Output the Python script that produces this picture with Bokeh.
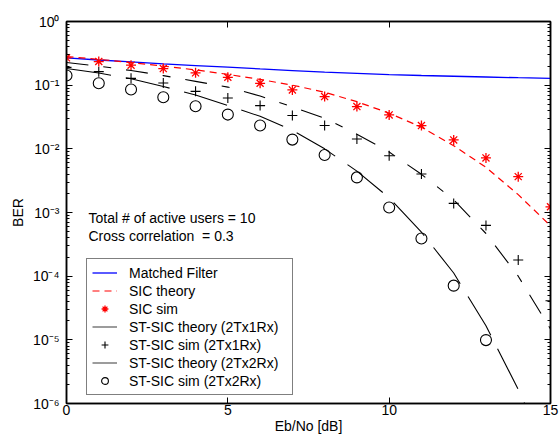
from bokeh.plotting import figure
from bokeh.models import (Range1d, FixedTicker, LinearAxis, LogAxis, CustomJSTickFormatter,
                          Label, Legend, LegendItem)
from bokeh.embed import file_html
from bokeh.resources import INLINE

# ---------------- data ----------------
ebno = [0, 1, 2, 3, 4, 5, 6, 7, 8, 9, 10, 11, 12, 13, 14, 15]
mf_ber = [0.2685, 0.2483, 0.2317, 0.2163, 0.2032, 0.1914, 0.1799, 0.1698,
          0.1603, 0.1531, 0.1469, 0.1419, 0.1380, 0.1343, 0.1309, 0.1282]
sic_theory = [0.2818, 0.2541, 0.2265, 0.1995, 0.1738, 0.1479, 0.1230, 0.1000,
              0.0776, 0.0550, 0.0363, 0.0219, 0.0112, 0.00513, 0.00191, 0.000617]
sic_sim = [0.269, 0.235, 0.206, 0.182, 0.156, 0.133, 0.107, 0.0842,
           0.0662, 0.0461, 0.0341, 0.0232, 0.0138, 0.0072, 0.00366, 0.00123]
st1_theory = [0.2265, 0.1995, 0.1698, 0.1413, 0.1148, 0.0933, 0.0676, 0.0457,
              0.0302, 0.0170, 0.00891, 0.00398, 0.00158, 4.68e-4, 1.0e-4, 1.48e-5]
st1_sim = [0.19, 0.163, 0.128, 0.108, 0.080, 0.063, 0.0478, 0.0333,
           0.0232, 0.0143, 0.0078, 0.00403, 0.00139, 6.27e-4, 1.79e-4, 4.1e-5]
st2_theory = [0.1824, 0.1549, 0.1259, 0.0955, 0.0700, 0.0479, 0.0324, 0.0195,
              0.0100, 0.00447, 0.0017, 4.9e-4, 1.12e-4, 1.66e-5, 1.66e-6, 1.26e-7]
st2_ebno = [0, 1, 2, 3, 4, 5, 6, 7, 8, 9, 10, 11, 12, 13]
st2_sim = [0.1415, 0.107, 0.0853, 0.0645, 0.0466, 0.0345, 0.0232, 0.01396,
           0.0080, 0.00356, 0.0012, 3.9e-4, 7.1e-5, 9.9e-6]

x_ticks = [0, 5, 10, 15]
y_ticks = [1e-6, 1e-5, 1e-4, 1e-3, 1e-2, 1e-1, 1e0]
y_minor = [m * t for t in y_ticks[:-1] for m in (2, 3, 4, 5, 6, 7, 8, 9)]

legend_labels = ["Matched Filter", "SIC theory", "SIC sim", "ST-SIC theory (2Tx1Rx)",
                 "ST-SIC sim (2Tx1Rx)", "ST-SIC theory (2Tx2Rx)", "ST-SIC sim (2Tx2Rx)"]
note_lines = ["Total # of active users = 10", "Cross correlation \u00a0= 0.3"]
x_label = "Eb/No [dB]"
y_label = "BER"

FONT = "Liberation Sans"

# ---------------- figure ----------------
p = figure(width=560, height=437, x_range=Range1d(0, 15), y_range=Range1d(1e-6, 1),
           y_axis_type="log", output_backend="svg", toolbar_location=None,
           min_border_left=66, min_border_right=10, min_border_top=21, min_border_bottom=34)
p.xgrid.visible = False
p.ygrid.visible = False
p.outline_line_color = "black"
p.outline_line_width = 1.5
p.background_fill_color = "white"
p.border_fill_color = "white"


def style_axis(ax):
    ax.axis_line_color = "black"
    ax.axis_line_width = 1.5
    ax.major_tick_in = 6
    ax.major_tick_out = 0
    ax.minor_tick_in = 3
    ax.minor_tick_out = 0
    ax.major_tick_line_color = "black"
    ax.minor_tick_line_color = "black"
    ax.major_label_text_font = FONT
    ax.major_label_text_font_size = "14px"
    ax.major_label_text_color = "black"
    ax.axis_label_text_font = FONT
    ax.axis_label_text_font_size = "14px"
    ax.axis_label_text_font_style = "normal"
    ax.axis_label_text_color = "black"


sup_code = """
const sup = {'-':'\u207b','0':'\u2070','1':'\u00b9','2':'\u00b2','3':'\u00b3','4':'\u2074',
             '5':'\u2075','6':'\u2076','7':'\u2077','8':'\u2078','9':'\u2079'};
const e = Math.round(Math.log10(tick));
return '10' + String(e).split('').map(c => sup[c]).join('');
"""

xa = p.xaxis[0]
style_axis(xa)
xa.ticker = FixedTicker(ticks=x_ticks)
xa.major_label_standoff = 1
xa.axis_label = x_label
xa.axis_label_standoff = 0

ya = p.yaxis[0]
style_axis(ya)
ya.ticker = FixedTicker(ticks=y_ticks, minor_ticks=y_minor)
ya.formatter = CustomJSTickFormatter(code=sup_code)
ya.major_label_standoff = 7
ya.axis_label = y_label
ya.axis_label_standoff = 4

top = LinearAxis(ticker=FixedTicker(ticks=x_ticks),
                 formatter=CustomJSTickFormatter(code="return ''"))
style_axis(top)
top.major_label_standoff = 0
top.major_label_text_font_size = "0px"
p.add_layout(top, "above")

right = LogAxis(ticker=FixedTicker(ticks=y_ticks, minor_ticks=y_minor),
                formatter=CustomJSTickFormatter(code="return ''"))
style_axis(right)
right.major_label_standoff = 0
right.major_label_text_font_size = "0px"
p.add_layout(right, "right")

# ---------------- series ----------------
r_mf = p.line(ebno, mf_ber, line_color="#0000ff", line_width=1.3)
r_sict = p.line(ebno, sic_theory, line_color="#ff0000", line_width=1.2, line_dash="7 5")
r_sics = p.scatter(ebno, sic_sim, marker="asterisk", size=10, line_color="#ff0000",
                   line_width=1.3)
p.line(ebno, st1_theory, line_color="black", line_width=1.1, line_dash="22 15 8 15")
r_st1s = p.scatter(ebno, st1_sim, marker="cross", size=10, line_color="black", line_width=1.1)
p.line(ebno, st2_theory, line_color="black", line_width=1.1, line_dash="45 15")
r_st2s = p.scatter(st2_ebno, st2_sim, marker="circle", size=11, line_color="black",
                   fill_color=None, line_width=1.1)

# legend proxies: a single point (draws no segment); the legend shows solid grey lines
r_leg1 = p.line(ebno[:1], st1_theory[:1], line_color="#5a5a5a", line_width=1.2)
r_leg2 = p.line(ebno[:1], st2_theory[:1], line_color="#5a5a5a", line_width=1.2)

legend = Legend(items=[
    LegendItem(label=legend_labels[0], renderers=[r_mf]),
    LegendItem(label=legend_labels[1], renderers=[r_sict]),
    LegendItem(label=legend_labels[2], renderers=[r_sics]),
    LegendItem(label=legend_labels[3], renderers=[r_leg1]),
    LegendItem(label=legend_labels[4], renderers=[r_st1s]),
    LegendItem(label=legend_labels[5], renderers=[r_leg2]),
    LegendItem(label=legend_labels[6], renderers=[r_st2s]),
], location=(20, 8))
legend.border_line_color = "black"
legend.border_line_width = 1.2
legend.background_fill_color = "white"
legend.background_fill_alpha = 1
legend.label_text_font = FONT
legend.label_text_font_size = "14px"
legend.label_text_color = "black"
legend.glyph_width = 25
legend.glyph_height = 17
legend.label_height = 17
legend.label_width = 158
legend.label_standoff = 12
legend.spacing = 1
legend.padding = 5
legend.margin = 0
p.add_layout(legend)

# ---------------- texts ----------------
p.add_layout(Label(x=22, y=186, x_units="screen", y_units="screen", text=note_lines[0],
                   text_font=FONT, text_font_size="14px", text_color="black",
                   text_baseline="middle", text_align="left"))
p.add_layout(Label(x=22, y=168, x_units="screen", y_units="screen", text=note_lines[1],
                   text_font=FONT, text_font_size="14px", text_color="black",
                   text_baseline="middle", text_align="left"))

open("out.html", "w").write(file_html(p, INLINE))
